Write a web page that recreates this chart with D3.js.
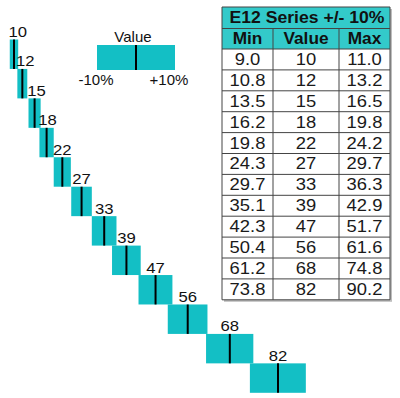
<!DOCTYPE html>
<html>
<head>
<meta charset="utf-8">
<script src="https://cdn.jsdelivr.net/npm/d3@7"></script>
<style>
  body { margin: 0; background: #fff; }
  svg { font-family: "Liberation Sans", Arial, sans-serif; display: block; }
</style>
</head>
<body>
<div id="mychart"></div>
<script>
// E12 resistor series with +/- 10% tolerance bands

const chartTarget = "#mychart"

// data
const values = [10, 12, 15, 18, 22, 27, 33, 39, 47, 56, 68, 82]
const mins = [9.0, 10.8, 13.5, 16.2, 19.8, 24.3, 29.7, 35.1, 42.3, 50.4, 61.2, 73.8]
const maxs = [11.0, 13.2, 16.5, 19.8, 24.2, 29.7, 36.3, 42.9, 51.7, 61.6, 74.8, 90.2]
const tableTitle = "E12 Series +/- 10%"
const tableHeads = ["Min", "Value", "Max"]
const legendTitle = "Value"
const legendLow = "-10%"
const legendHigh = "+10%"

const rows = values.map((v, i) => ({ value: v, min: mins[i], max: maxs[i] }))

// colours
const boxColor = "#13bfc5"
const headColor = "#33caca"
const borderColor = "#444"
const textColor = "#111"

const chartWidth = 400
const chartHeight = 398

// text in the original is slightly wide
const stretch = 1.15
const place = (x, y, s = stretch) => `translate(${x},${y}) scale(${s},1)`

// scales
const xScale = d3.scalePow([10, 82], [14, 278]).exponent(0.9)
const yScale = d3.scaleBand(values, [39.5, 392.8])

const svg = d3.select(chartTarget)
  .append("svg")
  .attr("width", chartWidth)
  .attr("height", chartHeight)
  .attr("viewBox", [0, 0, chartWidth, chartHeight])

// tolerance boxes
const steps = svg.append("g")
  .selectAll("g")
  .data(rows)
  .join("g")

steps.append("rect")
  .attr("x", d => xScale(d.min))
  .attr("y", d => yScale(d.value))
  .attr("width", d => xScale(d.max) - xScale(d.min))
  .attr("height", yScale.bandwidth())
  .attr("fill", boxColor)

steps.append("line")
  .attr("x1", d => xScale(d.value))
  .attr("x2", d => xScale(d.value))
  .attr("y1", d => yScale(d.value))
  .attr("y2", d => yScale(d.value) + yScale.bandwidth())
  .attr("stroke", "#000")
  .attr("stroke-width", 2)

steps.append("text")
  .attr("transform", d => place(Math.max(xScale(d.value), xScale(d.min) + 8), yScale(d.value) - 2.5))
  .attr("text-anchor", "middle")
  .attr("font-size", "14.5px")
  .attr("fill", textColor)
  .text(d => d.value)

// legend
const legend = svg.append("g")
const lgX = 97, lgY = 45, lgW = 78, lgH = 25
legend.append("rect")
  .attr("x", lgX).attr("y", lgY)
  .attr("width", lgW).attr("height", lgH)
  .attr("fill", boxColor)
legend.append("line")
  .attr("x1", lgX + lgW / 2).attr("x2", lgX + lgW / 2)
  .attr("y1", lgY).attr("y2", lgY + lgH)
  .attr("stroke", "#000").attr("stroke-width", 2)
legend.append("text")
  .attr("x", lgX + lgW / 2 - 3).attr("y", lgY - 3)
  .attr("text-anchor", "middle").attr("font-size", "15px").attr("fill", textColor)
  .text(legendTitle)
legend.append("text")
  .attr("x", lgX - 1).attr("y", lgY + 40)
  .attr("text-anchor", "middle").attr("font-size", "15px").attr("fill", textColor)
  .text(legendLow)
legend.append("text")
  .attr("x", lgX + lgW - 6).attr("y", lgY + 40)
  .attr("text-anchor", "middle").attr("font-size", "15px").attr("fill", textColor)
  .text(legendHigh)

// table
const colX = [222, 273, 339, 390]
const tTop = 7, titleH = 21.5, headH = 20.5, rowH = 20.9
const bodyTop = tTop + titleH + headH
const tBottom = bodyTop + rowH * rows.length
const table = svg.append("g")

// shadow
table.append("rect")
  .attr("x", colX[0] + 2).attr("y", tTop + 2)
  .attr("width", colX[3] - colX[0]).attr("height", tBottom - tTop)
  .attr("fill", "#bdbdbd")
table.append("rect")
  .attr("x", colX[0]).attr("y", tTop)
  .attr("width", colX[3] - colX[0]).attr("height", tBottom - tTop)
  .attr("fill", "#fff")
table.append("rect")
  .attr("x", colX[0]).attr("y", tTop)
  .attr("width", colX[3] - colX[0]).attr("height", titleH + headH)
  .attr("fill", headColor)

table.append("text")
  .attr("transform", place((colX[0] + colX[3]) / 2 + 1, tTop + 15.5, 1.1))
  .attr("text-anchor", "middle").attr("font-size", "16px").attr("font-weight", "bold")
  .attr("fill", textColor)
  .text(tableTitle)

table.selectAll(".head")
  .data(tableHeads)
  .join("text")
  .attr("class", "head")
  .attr("transform", (d, i) => place((colX[i] + colX[i + 1]) / 2, tTop + titleH + 15, 1.08))
  .attr("text-anchor", "middle").attr("font-size", "16px").attr("font-weight", "bold")
  .attr("fill", textColor)
  .text(d => d)

const fmt = d3.format(".1f")
const cells = rows.flatMap((r, j) => [fmt(r.min), String(r.value), fmt(r.max)]
  .map((t, i) => ({ t, i, j })))

table.selectAll(".cell")
  .data(cells)
  .join("text")
  .attr("class", "cell")
  .attr("transform", d => place((colX[d.i] + colX[d.i + 1]) / 2, bodyTop + d.j * rowH + 15.9))
  .attr("text-anchor", "middle").attr("font-size", "16px")
  .attr("fill", "#1a1a1a")
  .text(d => d.t)

// grid lines
const hLines = [tTop, tTop + titleH, bodyTop]
  .concat(d3.range(1, rows.length + 1).map(j => bodyTop + j * rowH))
table.selectAll(".hl")
  .data(hLines)
  .join("line")
  .attr("class", "hl")
  .attr("x1", colX[0]).attr("x2", colX[3])
  .attr("y1", d => d).attr("y2", d => d)
  .attr("stroke", borderColor).attr("stroke-width", 1)
table.selectAll(".vl")
  .data(colX)
  .join("line")
  .attr("class", "vl")
  .attr("x1", d => d).attr("x2", d => d)
  .attr("y1", (d, i) => (i === 0 || i === 3) ? tTop : tTop + titleH)
  .attr("y2", tBottom)
  .attr("stroke", borderColor).attr("stroke-width", 1)
</script>
</body>
</html>
